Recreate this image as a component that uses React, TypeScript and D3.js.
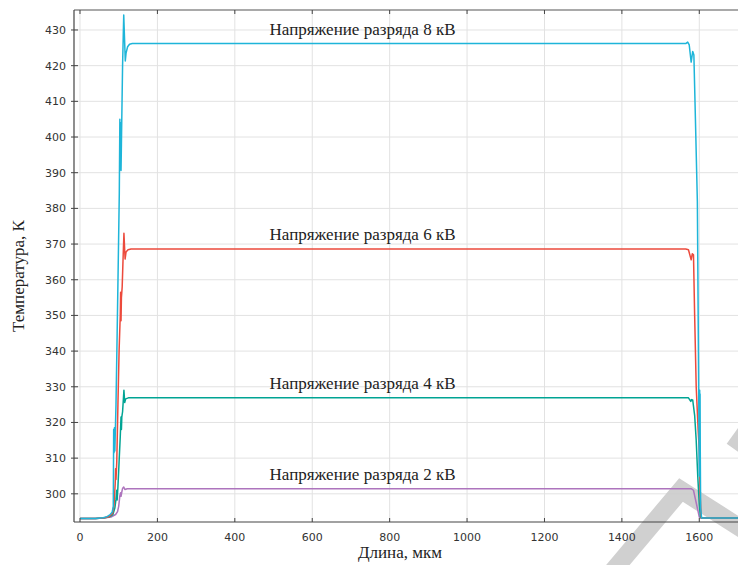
import React from "react";
import * as d3 from "d3";

const xTicks = [0, 200, 400, 600, 800, 1000, 1200, 1400, 1600, 1800];
const yTicks = [300, 310, 320, 330, 340, 350, 360, 370, 380, 390, 400, 410, 420, 430];

const series8kV: [number, number][] = [
  [0, 293.1], [40, 293.1], [60, 293.3], [70, 293.6], [78, 294.2], [83, 294.8], [86, 296.5],
  [87, 318], [88, 311.5], [89, 318.5], [90, 312], [93, 325], [96, 345], [99, 366], [101.5, 384],
  [103, 405], [104, 391], [105, 404], [106, 390.6], [107, 398], [110, 420], [113, 434.2],
  [117, 421.3], [119, 423.5], [123, 425.3], [128, 426], [135, 426.2], [1565, 426.2],
  [1570, 426.6], [1574, 425.8], [1579, 421], [1583, 424], [1586, 423], [1590, 405],
  [1595, 382], [1598, 336], [1600, 305], [1601, 329], [1601.5, 313], [1602, 328], [1602.5, 312],
  [1603.5, 296], [1606, 293.2], [1700, 293.2],
];
const series6kV: [number, number][] = [
  [0, 293.1], [40, 293.1], [60, 293.2], [75, 293.6], [84, 294.5], [88, 297], [91, 303],
  [92, 307], [93, 304], [95, 309], [98, 325], [101, 340], [104, 350], [105, 356.5],
  [106, 348.5], [107, 355], [109, 358], [111, 365], [113.5, 373], [116.5, 365.8],
  [119, 367.8], [124, 368.4], [132, 368.6], [1565, 368.6], [1572, 368.4], [1579, 365.6],
  [1582, 367.3], [1585, 367], [1588, 350], [1592, 330], [1597, 318], [1600, 312],
  [1602, 300], [1605, 293.2], [1700, 293.2],
];
const series4kV: [number, number][] = [
  [0, 293.1], [40, 293.1], [60, 293.2], [75, 293.5], [85, 294.2], [90, 296], [93, 298.5],
  [95, 301], [96, 298.3], [98, 302], [101, 309], [104, 316], [106, 321.5], [107, 318],
  [108, 321.5], [110, 323], [113.5, 329], [115.5, 325.6], [118, 326.6], [125, 326.9],
  [1565, 326.9], [1572, 326.9], [1578, 325.9], [1580, 326.4], [1583, 326.3], [1588, 322],
  [1592, 315], [1596, 305], [1600, 297], [1603, 293.5], [1606, 293.2], [1700, 293.2],
];
const series2kV: [number, number][] = [
  [0, 293.1], [40, 293.1], [60, 293.2], [80, 293.5], [92, 294.2], [97, 295], [100, 296.5],
  [103, 299.5], [105, 300.3], [106, 299.3], [108, 300.5], [110, 301.5], [113, 301.9],
  [116, 301.2], [122, 301.4], [1580, 301.4], [1585, 301], [1588, 299.5], [1593, 297],
  [1597, 295], [1600, 293.5], [1603, 293.2], [1700, 293.2],
];

const seriesList = [
  { name: "Напряжение разряда 2 кВ", data: series2kV, plateau: 301.4, color: "#ad74bd" },
  { name: "Напряжение разряда 4 кВ", data: series4kV, plateau: 326.9, color: "#00a494" },
  { name: "Напряжение разряда 6 кВ", data: series6kV, plateau: 368.6, color: "#ec4a3c" },
  { name: "Напряжение разряда 8 кВ", data: series8kV, plateau: 426.2, color: "#1eb5d9" },
];

const W = 738;
const H = 565;
const left = 74;
const right = 738;
const top = 10;
const bottom = 522;

export default function App() {
  const x = d3.scaleLinear().domain([-15.5, 1700]).range([left, right]);
  const y = d3.scaleLinear().domain([292.1, 435.6]).range([bottom, top]);
  const line = d3
    .line<[number, number]>()
    .x((d) => x(d[0]))
    .y((d) => y(d[1]));
  const visXTicks = xTicks.filter((t) => x(t) <= right + 1);

  return (
    <svg
      width={W}
      height={H}
      style={{ position: "absolute", left: 0, top: 0, background: "#fff" }}
    >
      <defs>
        <clipPath id="plot">
          <rect x={left} y={top} width={right - left} height={bottom - top} />
        </clipPath>
      </defs>
      {/* grid */}
      {visXTicks.map((t) => (
        <line key={"gx" + t} x1={x(t)} x2={x(t)} y1={top} y2={bottom} stroke="#e2e2e2" strokeWidth={1} />
      ))}
      {yTicks.map((t) => (
        <line key={"gy" + t} x1={left} x2={right} y1={y(t)} y2={y(t)} stroke="#e2e2e2" strokeWidth={1} />
      ))}
      {/* watermark */}
      <g stroke="#cbcbcb" strokeWidth={18} fill="none" opacity={0.9}>
        <path d="M612,572 L681,490 L750,534" />
        <path d="M734,449 L762,410" />
      </g>
      {/* series */}
      <g clipPath="url(#plot)" fill="none" strokeLinejoin="round">
        {seriesList.map((s) => (
          <path key={s.name} d={line(s.data) || ""} stroke={s.color} strokeWidth={1.5} />
        ))}
      </g>
      {/* annotations */}
      <g fontFamily="'Liberation Serif', serif" fontSize={17} fill="#222" textAnchor="middle">
        {seriesList.map((s) => (
          <text key={"t" + s.name} x={x(730)} y={y(s.plateau) - 9}>
            {s.name}
          </text>
        ))}
      </g>
      {/* axes frame */}
      <line x1={left} x2={right} y1={top} y2={top} stroke="#555" strokeWidth={1.2} />
      <line x1={left} x2={right} y1={bottom} y2={bottom} stroke="#444" strokeWidth={1.2} />
      <line x1={left} x2={left} y1={top} y2={bottom} stroke="#444" strokeWidth={1.2} />
      {visXTicks.map((t) => (
        <g key={"xt" + t}>
          <line x1={x(t)} x2={x(t)} y1={bottom} y2={bottom - 4} stroke="#444" />
          <line x1={x(t)} x2={x(t)} y1={top} y2={top + 4} stroke="#444" />
          <text
            x={x(t)}
            y={bottom + 19}
            textAnchor="middle"
            fontFamily="'DejaVu Sans', sans-serif"
            fontSize={11}
            fill="#333"
          >
            {t}
          </text>
        </g>
      ))}
      {yTicks.map((t) => (
        <g key={"yt" + t}>
          <line x1={left - 3} x2={left + 4} y1={y(t)} y2={y(t)} stroke="#444" />
          <text
            x={left - 8}
            y={y(t) + 4}
            textAnchor="end"
            fontFamily="'DejaVu Sans', sans-serif"
            fontSize={11}
            fill="#333"
          >
            {t}
          </text>
        </g>
      ))}
      <text
        transform={`translate(24, 276) rotate(-90)`}
        textAnchor="middle"
        fontFamily="'Liberation Serif', serif"
        fontSize={17}
        fill="#222"
      >
        Температура, К
      </text>
      <text
        x={400}
        y={558}
        textAnchor="middle"
        fontFamily="'Liberation Serif', serif"
        fontSize={17}
        fill="#222"
      >
        Длина, мкм
      </text>
    </svg>
  );
}
